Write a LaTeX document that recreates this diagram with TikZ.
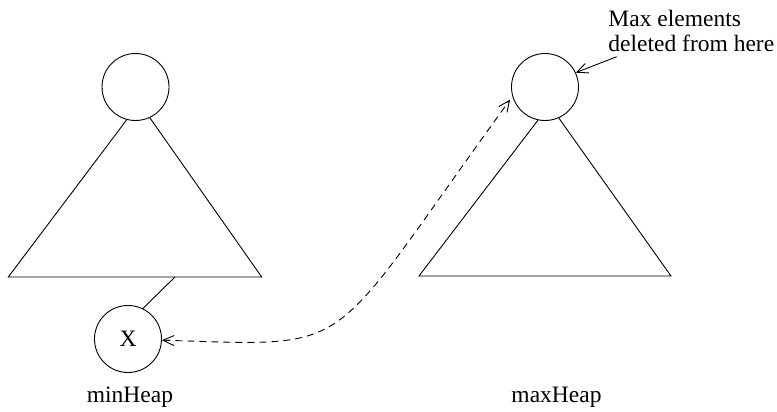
\documentclass[tikz,border=0pt]{standalone}
\usepackage{fontspec}
\setmainfont{Liberation Serif}
\usetikzlibrary{arrows.meta}
\begin{document}
\begin{tikzpicture}[x=1pt,y=-1pt,line width=0.9pt,
  heapnode/.style={draw,circle,inner sep=0pt,minimum size=67pt},
  lbl/.style={font=\fontsize{23.5}{25}\selectfont,inner sep=0pt},
  openhead/.style={-{Straight Barb[length=11pt,width=10pt,line width=0.9pt]}}]
\useasboundingbox (0,0) rectangle (777,412);
% left heap
\node[heapnode] (lc) at (135.5,87) {};
\coordinate (lbl1) at (8.3,277);
\coordinate (lbr1) at (261.7,277);
\draw (lc.255) -- (lbl1) -- (lbr1) -- (lc.295);
\node[heapnode,lbl] (xc) at (128,339) {X};
\coordinate (lbase) at (175,277);
\draw (lbase) -- (xc.64);
\node[lbl,anchor=base] (minl) at (130,402) {minHeap};
% right heap
\node[heapnode] (rc) at (545,87) {};
\coordinate (rbl) at (419,276);
\coordinate (rbr) at (671,276);
\draw (rc.258) -- (rbl) -- (rbr) -- (rc.294);
\node[lbl,anchor=base] (maxl) at (556.5,402) {maxHeap};
% note
\node[lbl,align=left,anchor=north west] (note) at (608,9.5) {Max elements\\deleted from here};
\coordinate (tail) at (616.7,56.7);
\draw[openhead] (tail) -- (rc.25);
% dashed double arrow
\draw[dash pattern=on 7pt off 5pt,{Straight Barb[length=11pt,width=10pt,line width=0.9pt]}-{Straight Barb[length=11pt,width=10pt,line width=0.9pt]}]
  (xc.-2) .. controls (361,346) and (321.8,358.9) .. ([shift={(-3,1)}]rc.200);
\end{tikzpicture}
\end{document}
